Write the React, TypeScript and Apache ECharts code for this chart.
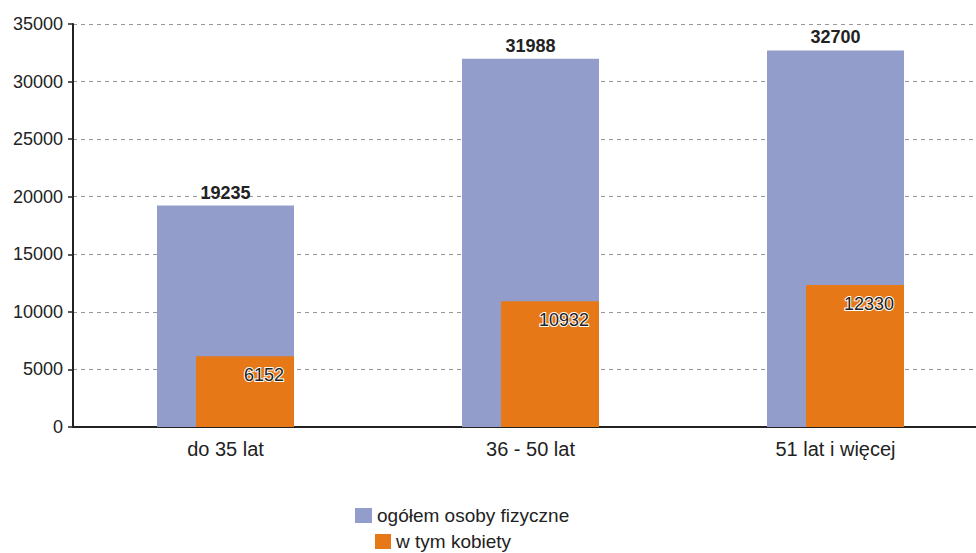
import React, { useEffect, useRef } from "react";
import * as echarts from "echarts";

const categories = ["do 35 lat", "36 - 50 lat", "51 lat i więcej"];
const totalValues = [19235, 31988, 32700];
const womenValues = [6152, 10932, 12330];
const seriesNames = ["ogółem osoby fizyczne", "w tym kobiety"];

export default function App() {
  const ref = useRef<HTMLDivElement>(null);
  useEffect(() => {
    if (!ref.current) return;
    const chart = echarts.init(ref.current, null, { renderer: "svg" });
    const font = "Liberation Sans, Arial, sans-serif";
    chart.setOption({
      animation: false,
      textStyle: { fontFamily: font },
      grid: {
        left: 73,
        top: 24,
        height: 403,
        width: 915,
        containLabel: false,
        outerBoundsMode: "none",
      },
      legend: [
        {
          data: [seriesNames[0]],
          left: 355,
          top: 506,
          padding: 0,
          itemWidth: 17,
          itemHeight: 15,
          icon: "rect",
          selectedMode: false,
          textStyle: { fontSize: 19, color: "#222", fontFamily: font },
        },
        {
          data: [seriesNames[1]],
          left: 375,
          top: 532,
          padding: 0,
          itemWidth: 16,
          itemHeight: 15,
          icon: "rect",
          selectedMode: false,
          textStyle: { fontSize: 19, color: "#222", fontFamily: font },
        },
      ],
      xAxis: {
        type: "category",
        data: categories,
        axisLine: { show: true, lineStyle: { color: "#222", width: 2 } },
        axisTick: { show: false },
        axisLabel: { fontSize: 20, color: "#222", margin: 12, fontFamily: font },
      },
      yAxis: {
        type: "value",
        min: 0,
        max: 35000,
        interval: 5000,
        axisLine: { show: true, lineStyle: { color: "#222", width: 2 } },
        axisTick: { show: true, length: 5, lineStyle: { color: "#222", width: 1.5 } },
        axisLabel: {
          fontSize: 18,
          color: "#222",
          margin: 10,
          fontFamily: font,
          formatter: (v: number) => String(v),
        },
        splitLine: { show: true, lineStyle: { color: "#999", width: 1, type: [4, 4] } },
      },
      series: [
        {
          name: seriesNames[0],
          type: "bar",
          data: totalValues,
          barWidth: 137,
          barGap: "-71.53%",
          itemStyle: { color: "#929dcb" },
          label: {
            show: true,
            position: "top",
            distance: 4,
            fontSize: 18,
            fontWeight: "bold",
            color: "#222",
            fontFamily: font,
          },
        },
        {
          name: seriesNames[1],
          type: "bar",
          data: womenValues,
          barWidth: 98,
          itemStyle: { color: "#e77817" },
          label: {
            show: true,
            position: "insideTopRight",
            distance: 10,
            fontSize: 18,
            color: "#222",
            fontFamily: font,
            textBorderColor: "#fff",
            textBorderWidth: 2,
          },
        },
      ],
    });
    return () => chart.dispose();
  }, []);
  return (
    <div
      ref={ref}
      style={{ position: "absolute", left: 0, top: 0, width: 976, height: 553, background: "#fff" }}
    />
  );
}
